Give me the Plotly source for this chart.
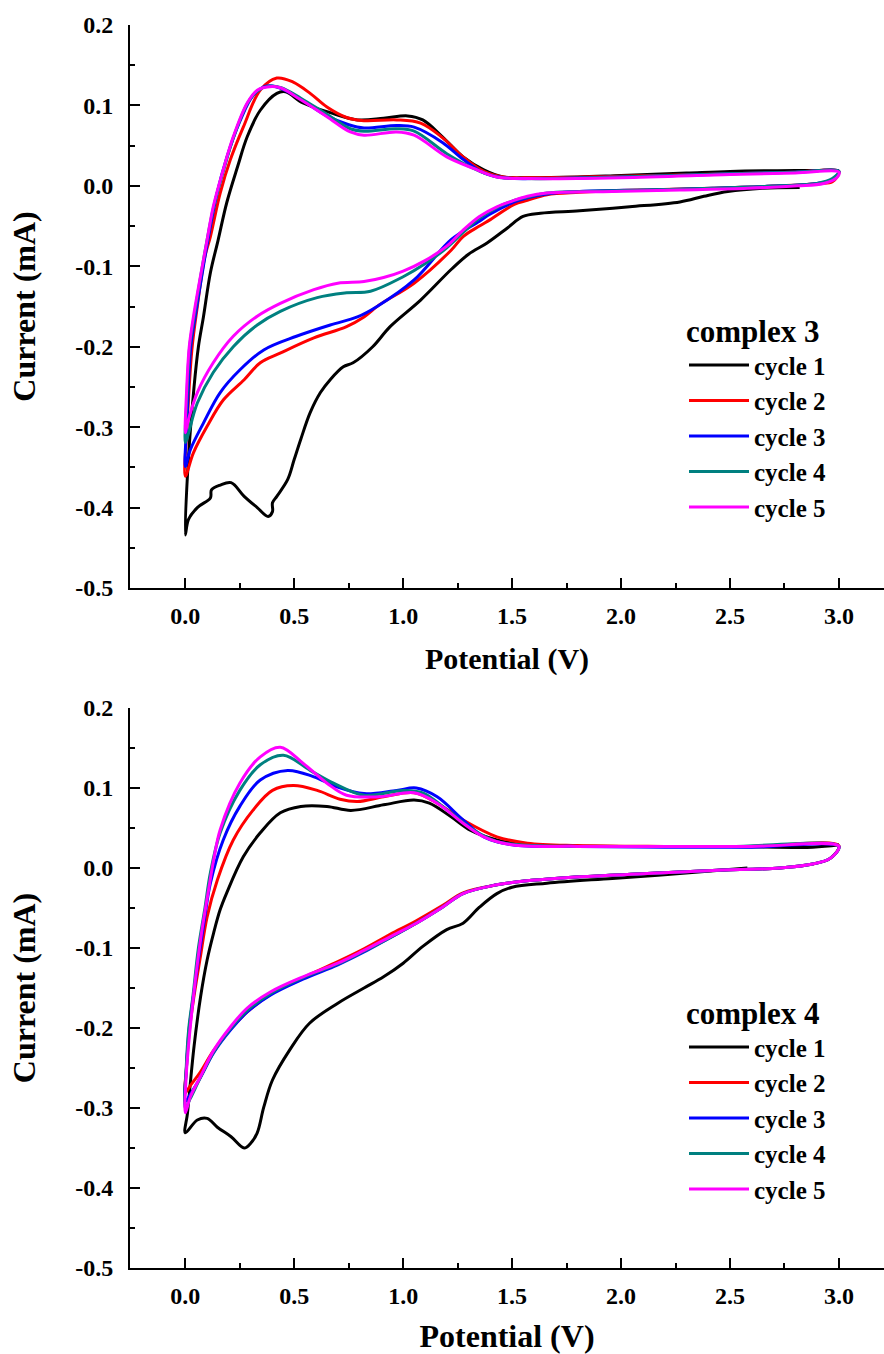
import plotly.graph_objects as go

# ---------------- complex 3 : cyclic voltammograms (potential V, current mA) ----------------
c3_cycle1_v = [2.82, 2.65, 2.49, 2.38, 2.27, 2.04, 1.81, 1.63, 1.55, 1.48, 1.385, 1.30, 1.22, 1.08, 0.94,
               0.86, 0.77, 0.725, 0.665, 0.62, 0.573, 0.53, 0.50, 0.47, 0.42, 0.40, 0.40, 0.38, 0.33,
               0.27, 0.21, 0.16, 0.12, 0.115, 0.055, 0.014, 0.0,
               0.014, 0.04, 0.06, 0.083, 0.115, 0.15, 0.19, 0.24, 0.284, 0.344, 0.42, 0.46, 0.54,
               0.665, 0.79, 0.91, 1.02, 1.09, 1.18, 1.275, 1.37, 1.46, 1.57, 1.8, 2.0, 2.3, 2.5, 2.8, 3.0]
c3_cycle1_i = [-0.002, -0.003, -0.007, -0.013, -0.020, -0.026, -0.031, -0.034, -0.038, -0.052, -0.071,
               -0.085, -0.104, -0.142, -0.175, -0.200, -0.220, -0.225, -0.241, -0.257, -0.282, -0.315,
               -0.340, -0.365, -0.386, -0.394, -0.405, -0.411, -0.400, -0.386, -0.369, -0.372, -0.378,
               -0.388, -0.400, -0.415, -0.434,
               -0.340, -0.250, -0.200, -0.163, -0.108, -0.068, -0.021, 0.024, 0.061, 0.094, 0.115, 0.117,
               0.103, 0.091, 0.082, 0.084, 0.087, 0.082, 0.061, 0.036, 0.020, 0.011, 0.010, 0.011, 0.013,
               0.016, 0.018, 0.019, 0.019]

c3_cycle2_v = [3.0, 2.97, 2.91, 2.73, 2.42, 2.12, 1.81, 1.66, 1.57, 1.51, 1.40, 1.35, 1.275, 1.22, 1.05,
               0.89, 0.82, 0.74, 0.59, 0.435, 0.344, 0.27, 0.175, 0.10, 0.037, 0.0,
               0.008, 0.03, 0.055, 0.088, 0.115, 0.16, 0.206, 0.266, 0.344, 0.42, 0.495, 0.573, 0.65,
               0.74, 0.82, 0.97, 1.08, 1.18, 1.275, 1.37, 1.46, 1.6, 2.0, 2.5, 2.8, 3.0]
c3_cycle2_i = [0.018, 0.005, 0.003, 0.0, -0.003, -0.005, -0.008, -0.011, -0.018, -0.023, -0.042, -0.050,
               -0.063, -0.080, -0.121, -0.148, -0.163, -0.175, -0.189, -0.208, -0.220, -0.241, -0.266,
               -0.299, -0.332, -0.361,
               -0.300, -0.204, -0.150, -0.090, -0.063, -0.009, 0.032, 0.073, 0.119, 0.134, 0.129, 0.115,
               0.098, 0.085, 0.081, 0.082, 0.078, 0.060, 0.036, 0.018, 0.011, 0.010, 0.012, 0.015, 0.017,
               0.018]

c3_cycle3_v = [3.0, 2.97, 2.9, 2.73, 2.42, 2.12, 1.81, 1.66, 1.57, 1.51, 1.40, 1.35, 1.22, 1.05, 0.88,
               0.79, 0.665, 0.51, 0.36, 0.25, 0.16, 0.083, 0.023, 0.0,
               0.008, 0.025, 0.045, 0.075, 0.105, 0.145, 0.19, 0.25, 0.31, 0.37, 0.42, 0.50, 0.573,
               0.65, 0.75, 0.82, 0.97, 1.05, 1.18, 1.275, 1.37, 1.46, 1.6, 2.0, 2.5, 2.8, 3.0]
c3_cycle3_i = [0.018, 0.008, 0.003, 0.0, -0.003, -0.005, -0.007, -0.010, -0.015, -0.020, -0.035, -0.044,
               -0.067, -0.117, -0.150, -0.163, -0.173, -0.187, -0.204, -0.229, -0.257, -0.295, -0.328,
               -0.349,
               -0.290, -0.200, -0.163, -0.113, -0.065, -0.010, 0.035, 0.080, 0.112, 0.124, 0.123, 0.113,
               0.100, 0.087, 0.076, 0.072, 0.075, 0.073, 0.054, 0.033, 0.016, 0.010, 0.009, 0.011, 0.015,
               0.017, 0.018]

c3_cycle4_v = [3.0, 2.97, 2.9, 2.73, 2.42, 2.12, 1.81, 1.66, 1.57, 1.50, 1.43, 1.35, 1.275, 1.20, 1.10,
               1.0, 0.85, 0.74, 0.605, 0.436, 0.33, 0.22, 0.128, 0.055, 0.01, 0.0,
               0.006, 0.02, 0.04, 0.07, 0.10, 0.13, 0.176, 0.222, 0.286, 0.33, 0.38, 0.44, 0.53, 0.65,
               0.757, 0.82, 0.97, 1.05, 1.20, 1.32, 1.43, 1.57, 2.0, 2.5, 2.8, 3.0]
c3_cycle4_i = [0.018, 0.009, 0.003, 0.0, -0.003, -0.005, -0.007, -0.009, -0.014, -0.019, -0.027, -0.040,
               -0.058, -0.077, -0.097, -0.113, -0.131, -0.133, -0.139, -0.156, -0.173, -0.200, -0.232,
               -0.270, -0.312, -0.319,
               -0.270, -0.200, -0.163, -0.113, -0.067, -0.026, 0.020, 0.061, 0.103, 0.118, 0.124, 0.122,
               0.109, 0.089, 0.071, 0.068, 0.071, 0.068, 0.040, 0.022, 0.011, 0.009, 0.011, 0.015, 0.017,
               0.018]

c3_cycle5_v = [3.0, 2.99, 2.93, 2.81, 2.58, 2.27, 1.96, 1.66, 1.57, 1.50, 1.43, 1.35, 1.275, 1.20, 1.10,
               1.0, 0.91, 0.82, 0.70, 0.59, 0.436, 0.33, 0.22, 0.128, 0.055, 0.01, 0.0,
               0.005, 0.018, 0.037, 0.069, 0.10, 0.128, 0.174, 0.22, 0.284, 0.33, 0.376, 0.436, 0.53,
               0.65, 0.757, 0.82, 0.97, 1.05, 1.20, 1.32, 1.43, 1.57, 2.0, 2.5, 2.8, 3.0]
c3_cycle5_i = [0.017, 0.010, 0.003, 0.0, -0.003, -0.005, -0.007, -0.009, -0.013, -0.019, -0.026, -0.038,
               -0.055, -0.075, -0.093, -0.106, -0.114, -0.119, -0.121, -0.129, -0.146, -0.162, -0.187,
               -0.220, -0.257, -0.295, -0.307,
               -0.260, -0.200, -0.163, -0.113, -0.067, -0.026, 0.020, 0.061, 0.103, 0.119, 0.123, 0.122,
               0.107, 0.086, 0.067, 0.063, 0.067, 0.063, 0.036, 0.022, 0.011, 0.009, 0.010, 0.014, 0.016,
               0.017]

# ---------------- complex 4 ----------------
c4_cycle1_v = [2.58, 2.27, 1.96, 1.66, 1.50, 1.43, 1.35, 1.275, 1.20, 1.09, 1.0, 0.91, 0.82, 0.70, 0.57,
               0.48, 0.40, 0.36, 0.33, 0.30, 0.27, 0.21, 0.147, 0.10, 0.055, 0.0,
               0.01, 0.04, 0.07, 0.10, 0.13, 0.16, 0.19, 0.266, 0.344, 0.436, 0.53, 0.65, 0.76, 0.91,
               1.05, 1.12, 1.22, 1.31, 1.43, 1.57, 2.0, 2.5, 2.88, 3.0]
c4_cycle1_i = [0.0, -0.007, -0.013, -0.019, -0.024, -0.032, -0.049, -0.069, -0.077, -0.098, -0.119,
               -0.136, -0.150, -0.169, -0.194, -0.227, -0.265, -0.299, -0.331, -0.344, -0.350, -0.336,
               -0.324, -0.313, -0.315, -0.331,
               -0.306, -0.223, -0.161, -0.115, -0.081, -0.052, -0.031, 0.014, 0.044, 0.069, 0.077, 0.077,
               0.072, 0.079, 0.085, 0.081, 0.064, 0.047, 0.035, 0.029, 0.027, 0.027, 0.026, 0.029]

c4_cycle2_v = [3.0, 2.96, 2.88, 2.73, 2.42, 2.12, 1.81, 1.5, 1.43, 1.275, 1.18, 1.06, 0.94, 0.82, 0.70,
               0.54, 0.39, 0.284, 0.206, 0.13, 0.069, 0.023, 0.0,
               0.005, 0.02, 0.04, 0.069, 0.10, 0.147, 0.22, 0.31, 0.40, 0.496, 0.605, 0.71, 0.79, 0.91,
               1.05, 1.156, 1.275, 1.43, 1.57, 1.8, 2.2, 2.6, 3.0]
c4_cycle2_i = [0.028, 0.012, 0.005, 0.0, -0.003, -0.007, -0.011, -0.018, -0.021, -0.031, -0.047, -0.066,
               -0.083, -0.101, -0.117, -0.137, -0.158, -0.180, -0.202, -0.228, -0.255, -0.272, -0.281,
               -0.250, -0.200, -0.160, -0.111, -0.061, -0.015, 0.035, 0.072, 0.097, 0.103, 0.097, 0.086,
               0.083, 0.089, 0.094, 0.081, 0.060, 0.039, 0.031, 0.028, 0.027, 0.027, 0.028]

c4_cycle3_v = [3.0, 2.96, 2.88, 2.73, 2.42, 2.12, 1.81, 1.5, 1.43, 1.275, 1.18, 1.06, 0.94, 0.82, 0.70,
               0.54, 0.39, 0.284, 0.206, 0.13, 0.069, 0.023, 0.0,
               0.005, 0.018, 0.037, 0.065, 0.09, 0.115, 0.174, 0.25, 0.344, 0.47, 0.59, 0.70, 0.82,
               0.97, 1.06, 1.156, 1.275, 1.37, 1.50, 1.8, 2.2, 2.6, 3.0]
c4_cycle3_i = [0.027, 0.012, 0.005, 0.0, -0.003, -0.007, -0.011, -0.018, -0.021, -0.032, -0.049, -0.069,
               -0.087, -0.105, -0.121, -0.139, -0.159, -0.180, -0.203, -0.231, -0.262, -0.283, -0.292,
               -0.250, -0.200, -0.160, -0.105, -0.060, -0.019, 0.035, 0.077, 0.110, 0.122, 0.114, 0.101,
               0.093, 0.097, 0.100, 0.089, 0.060, 0.039, 0.029, 0.027, 0.026, 0.026, 0.027]

c4_cycle4_v = [3.0, 2.96, 2.88, 2.73, 2.42, 2.12, 1.81, 1.5, 1.43, 1.275, 1.18, 1.06, 0.94, 0.82, 0.70,
               0.54, 0.39, 0.284, 0.206, 0.13, 0.069, 0.023, 0.0,
               0.004, 0.016, 0.035, 0.06, 0.09, 0.115, 0.16, 0.25, 0.344, 0.45, 0.573, 0.68, 0.82, 1.0,
               1.09, 1.20, 1.32, 1.43, 1.6, 2.0, 2.5, 3.0]
c4_cycle4_i = [0.027, 0.012, 0.005, 0.0, -0.003, -0.007, -0.011, -0.018, -0.021, -0.032, -0.049, -0.069,
               -0.087, -0.104, -0.120, -0.137, -0.157, -0.178, -0.201, -0.230, -0.262, -0.288, -0.300,
               -0.250, -0.200, -0.160, -0.100, -0.050, -0.006, 0.044, 0.097, 0.129, 0.141, 0.122, 0.106,
               0.091, 0.097, 0.094, 0.073, 0.048, 0.033, 0.028, 0.027, 0.027, 0.027]

c4_cycle5_v = [3.0, 2.96, 2.88, 2.73, 2.42, 2.12, 1.81, 1.5, 1.43, 1.275, 1.18, 1.06, 0.94, 0.82, 0.70,
               0.54, 0.39, 0.284, 0.206, 0.13, 0.069, 0.023, 0.0,
               0.004, 0.014, 0.037, 0.055, 0.075, 0.105, 0.13, 0.16, 0.25, 0.344, 0.436, 0.54, 0.65,
               0.74, 0.89, 1.05, 1.156, 1.275, 1.37, 1.5, 1.8, 2.2, 2.6, 3.0]
c4_cycle5_i = [0.027, 0.012, 0.005, 0.0, -0.003, -0.007, -0.011, -0.018, -0.021, -0.032, -0.049, -0.069,
               -0.086, -0.103, -0.119, -0.136, -0.155, -0.175, -0.199, -0.228, -0.261, -0.286, -0.306,
               -0.260, -0.224, -0.161, -0.120, -0.080, -0.030, 0.010, 0.048, 0.106, 0.139, 0.151, 0.131,
               0.106, 0.091, 0.089, 0.094, 0.081, 0.056, 0.039, 0.029, 0.027, 0.027, 0.027, 0.027]

cycle_names = ["cycle 1", "cycle 2", "cycle 3", "cycle 4", "cycle 5"]
cycle_colors = ["#000000", "#FF0000", "#0000FF", "#008080", "#FF00FF"]

# axis tick values and their printed labels (hyphen minus, as in the original figure)
y_tickvals = [-0.5, -0.4, -0.3, -0.2, -0.1, 0.0, 0.1, 0.2]
y_ticklabels = ["-0.5", "-0.4", "-0.3", "-0.2", "-0.1", "0.0", "0.1", "0.2"]
x_tickvals = [0.0, 0.5, 1.0, 1.5, 2.0, 2.5, 3.0]
x_ticklabels = ["0.0", "0.5", "1.0", "1.5", "2.0", "2.5", "3.0"]

complex3 = [(c3_cycle1_v, c3_cycle1_i), (c3_cycle2_v, c3_cycle2_i), (c3_cycle3_v, c3_cycle3_i),
            (c3_cycle4_v, c3_cycle4_i), (c3_cycle5_v, c3_cycle5_i)]
complex4 = [(c4_cycle1_v, c4_cycle1_i), (c4_cycle2_v, c4_cycle2_i), (c4_cycle3_v, c4_cycle3_i),
            (c4_cycle4_v, c4_cycle4_i), (c4_cycle5_v, c4_cycle5_i)]

FONT = "Liberation Serif"
W, H = 884, 1354
M_L, M_R, M_T, M_B = 130, 0, 25, 86
plot_h = H - M_T - M_B
top_dom = [(1268 - 588) / plot_h, 1.0]
bot_dom = [0.0, (1268 - 708) / plot_h]
x_range = [-0.254, 3.207]
y_range = [-0.5, 0.2]

fig = go.Figure()

for (v, i), name, col in zip(complex3, cycle_names, cycle_colors):
    fig.add_trace(go.Scatter(x=v, y=i, mode="lines", name=name, xaxis="x", yaxis="y",
                             line=dict(color=col, width=3, shape="spline", smoothing=1.0),
                             legend="legend", legendgroup="a" + name))
for (v, i), name, col in zip(complex4, cycle_names, cycle_colors):
    fig.add_trace(go.Scatter(x=v, y=i, mode="lines", name=name, xaxis="x2", yaxis="y2",
                             line=dict(color=col, width=3, shape="spline", smoothing=1.0),
                             legend="legend2", legendgroup="b" + name))

tick_font = dict(family=FONT, size=24, color="black", weight="bold")
ytitle_font = dict(family=FONT, size=32, color="black", weight="bold")


def x_axis(dom_anchor, title_size):
    return dict(range=x_range, domain=[0, 1], anchor=dom_anchor, showgrid=False, zeroline=False,
                showline=True, linecolor="black", linewidth=2,
                ticks="inside", ticklen=10, tickwidth=2, tickcolor="black",
                tickvals=x_tickvals, ticktext=x_ticklabels, tickfont=tick_font, ticklabelstandoff=5,
                minor=dict(ticks="inside", ticklen=5, tickwidth=2, tickcolor="black",
                           tick0=0, dtick=0.25),
                title=dict(text="Potential (V)", standoff=20,
                           font=dict(family=FONT, size=title_size, color="black", weight="bold")))


def y_axis(dom, anchor):
    return dict(range=y_range, domain=dom, anchor=anchor, showgrid=False, zeroline=False,
                showline=True, linecolor="black", linewidth=2,
                ticks="inside", ticklen=10, tickwidth=2, tickcolor="black",
                tickvals=y_tickvals, ticktext=y_ticklabels, tickfont=tick_font, ticklabelstandoff=10,
                minor=dict(ticks="inside", ticklen=5, tickwidth=2, tickcolor="black",
                           tick0=0, dtick=0.05),
                title=dict(text="Current (mA)", font=ytitle_font, standoff=30))


def top_axis(over, anchor):
    return dict(range=x_range, overlaying=over, anchor=anchor, side="top", showgrid=False,
                zeroline=False, showline=True, linecolor="black", linewidth=2,
                ticks="inside", ticklen=4, tickwidth=2, tickcolor="black",
                tick0=0, dtick=0.25, showticklabels=False)


def legend_box(ytop, title):
    return dict(x=(684 - M_L) / (W - M_L - M_R), y=ytop, xanchor="left", yanchor="top",
                bgcolor="rgba(0,0,0,0)", borderwidth=0, itemwidth=60,
                font=dict(family=FONT, size=25, color="black", weight="bold"),
                title=dict(text=title, font=dict(family=FONT, size=31, color="black", weight="bold")),
                traceorder="grouped", tracegroupgap=0)


fig.update_layout(
    width=W, height=H,
    margin=dict(l=M_L, r=M_R, t=M_T, b=M_B, autoexpand=False),
    paper_bgcolor="white", plot_bgcolor="white",
    xaxis=x_axis("y", 30),
    yaxis=y_axis(top_dom, "x"),
    xaxis2=x_axis("y2", 32),
    yaxis2=y_axis(bot_dom, "x2"),
    xaxis3=top_axis("x", "y"),
    xaxis4=top_axis("x2", "y2"),
    legend=legend_box((1268 - 302) / plot_h, "complex 3"),
    legend2=legend_box((1268 - 984) / plot_h, "complex 4"),
)

fig.write_html("out.html")
